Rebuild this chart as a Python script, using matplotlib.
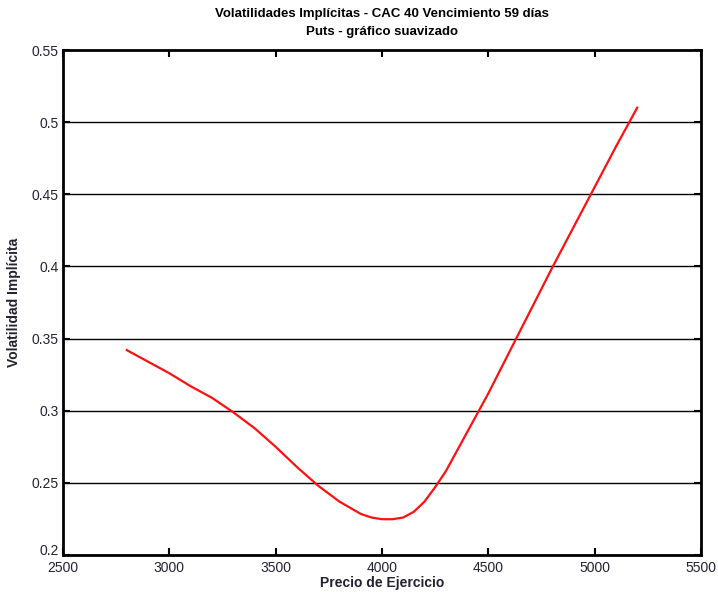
import matplotlib
matplotlib.use('Agg')
from matplotlib import pyplot as plt
from matplotlib.transforms import ScaledTranslation

# strikes and implied vols
strikes = [2800, 2900, 3000, 3100, 3200, 3300, 3400, 3500, 3600, 3700, 3800,
           3900, 3950, 4000, 4050, 4100, 4150, 4200, 4250, 4300, 4400, 4500,
           4600, 4700, 4800, 4900, 5000, 5100, 5200]
vols = [0.342, 0.334, 0.326, 0.317, 0.309, 0.299, 0.288, 0.275, 0.261, 0.248,
        0.237, 0.2285, 0.2260, 0.2248, 0.2248, 0.2260, 0.2300, 0.2370, 0.2470,
        0.258, 0.285, 0.312, 0.341, 0.370, 0.399, 0.427, 0.455, 0.483, 0.510]

xticks = [2500, 3000, 3500, 4000, 4500, 5000, 5500]
yticks = [0.2, 0.25, 0.3, 0.35, 0.4, 0.45, 0.5, 0.55]
yticklabels = ['0.2', '0.25', '0.3', '0.35', '0.4', '0.45', '0.5', '0.55']

plt.rcParams['font.family'] = ['Liberation Sans', 'DejaVu Sans']

fig = plt.figure(figsize=(7.18, 5.92), dpi=100)
ax = fig.add_axes([0.0877, 0.0625, 0.8886, 0.853])

for y in yticks[1:-1]:
    ax.axhline(y, color='black', linewidth=1.0, zorder=1)

ax.plot(strikes, vols, color='#ff1010', linewidth=1.6, zorder=2)

ax.set_xlim(2500, 5500)
ax.set_ylim(0.2, 0.55)
ax.set_xticks(xticks)
ax.set_yticks(yticks)
ax.set_yticklabels(yticklabels)
ax.tick_params(direction='in', length=5, width=1.5, labelsize=10,
               labelcolor='#222233', top=True, right=True)
ax.tick_params(axis='x', pad=4)
ax.tick_params(axis='y', pad=3)
for s in ax.spines.values():
    s.set_linewidth(2.0)

# nudge the lowest y label up a bit so it clears "2500"
lbl = ax.get_yticklabels()[0]
lbl.set_transform(lbl.get_transform() + ScaledTranslation(0, 4 / 72, fig.dpi_scale_trans))

ax.set_xlabel('Precio de Ejercicio', fontsize=10, fontweight='bold',
              color='#222233', labelpad=1)
ax.set_ylabel('Volatilidad Implícita', fontsize=10, fontweight='bold',
              color='#222233', labelpad=8)
ax.set_title('Volatilidades Implícitas - CAC 40 Vencimiento 59 días\n'
             'Puts - gráfico suavizado', fontsize=9.5, fontweight='bold',
             pad=11, linespacing=1.6)

fig.savefig('out.png', dpi=100)
